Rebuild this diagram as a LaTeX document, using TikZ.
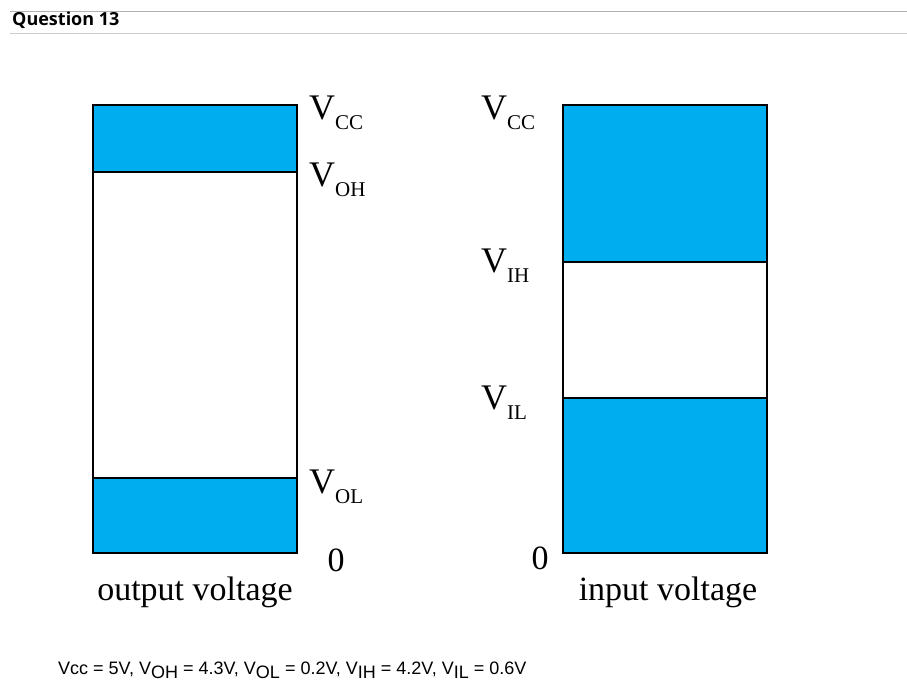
\documentclass[tikz,border=0pt]{standalone}
\usepackage{fontspec}
\setmainfont{Liberation Serif}
\newfontfamily\hdfont{Open Sans}
\newfontfamily\arialfont{Liberation Sans}
\definecolor{band}{HTML}{00AEEF}
\newcommand{\VV}[1]{V\raisebox{-0.28em}{\fontsize{21}{21}\selectfont #1}}
\begin{document}
\begin{tikzpicture}[x=1pt,y=-1pt,
  lbl/.style={font=\fontsize{36}{36}\selectfont, inner sep=0pt, anchor=west},
  captext/.style={font=\fontsize{34}{34}\selectfont, inner sep=0pt},
  blk/.style={draw=black, line width=2pt}]
\useasboundingbox (0,0) rectangle (907,699);
\draw[gray!60, line width=1pt] (10,11) -- (907,11);
\draw[gray!40, line width=1pt] (10,33) -- (907,33);
\node[anchor=west, inner sep=0pt, font=\hdfont\bfseries\fontsize{18}{18}\selectfont] (q) at (12,20) {Question 13};
% left
\fill[band] (93,105) rectangle (297,172);
\fill[band] (93,478) rectangle (297,553);
\draw[blk] (93,172) -- (297,172);
\draw[blk] (93,478) -- (297,478);
\draw[blk] (93,105) rectangle (297,553);
% right
\fill[band] (563,105) rectangle (767,262);
\fill[band] (563,398) rectangle (767,553);
\draw[blk] (563,262) -- (767,262);
\draw[blk] (563,398) -- (767,398);
\draw[blk] (563,105) rectangle (767,553);
% labels
\node[lbl] (lvcc) at (309,113) {\VV{CC}};
\node[lbl] (lvoh) at (309,180) {\VV{OH}};
\node[lbl] (lvol) at (309,487) {\VV{OL}};
\node[captext] (l0) at (336,560) {0};
\node[captext] (lout) at (195,592) {output voltage};
\node[lbl] (rvcc) at (481,113) {\VV{CC}};
\node[lbl] (rvih) at (481,266) {\VV{IH}};
\node[lbl] (rvil) at (481,403) {\VV{IL}};
\node[captext] (r0) at (540,558) {0};
\node[captext] (rin) at (668,592) {input voltage};
\node[anchor=west, inner sep=0pt, font=\arialfont\fontsize{18}{18}\selectfont] (eq) at (58,670)
 {Vcc = 5V, V\raisebox{-4pt}{OH} = 4.3V, V\raisebox{-4pt}{OL} = 0.2V, V\raisebox{-4pt}{IH} = 4.2V, V\raisebox{-4pt}{IL} = 0.6V};
\end{tikzpicture}
\end{document}
